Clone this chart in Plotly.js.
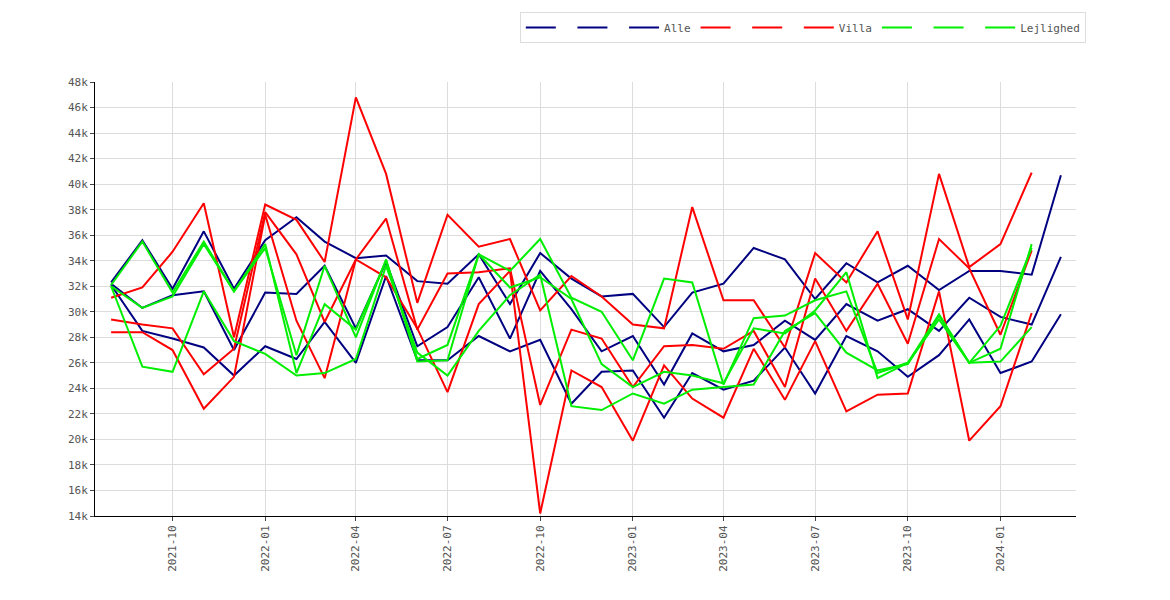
<!DOCTYPE html>
<html>
<head>
<meta charset="utf-8">
<script src="https://cdn.plot.ly/plotly-3.0.1.min.js"></script>
<style>body{margin:0;background:#fff}#chart{width:1170px;height:600px}</style>
</head>
<body>
<div id="chart"></div>
<script>
// monthly points, 2021-08 .. 2024-03
const months = [];
for (let i = 0; i < 32; i++) {
    const y = 2021 + Math.floor((7 + i) / 12), m = (7 + i) % 12 + 1;
    months.push(y + '-' + String(m).padStart(2, '0') + '-01');
}

const alleHigh = [32.3,35.6,31.8,36.3,31.8,35.6,37.4,35.5,34.2,34.4,32.4,32.2,34.5,30.6,34.6,32.6,31.2,31.4,28.8,31.5,32.2,35.0,34.1,31.0,33.8,32.3,33.6,31.7,33.2,33.2,32.9,40.7];
const alleMid = [32.2,30.3,31.3,31.6,27.0,31.5,31.4,33.6,28.7,33.9,27.3,28.8,32.7,27.9,33.2,30.2,26.9,28.1,24.3,28.3,26.9,27.4,29.3,27.8,30.6,29.3,30.2,28.5,31.1,29.6,29.0,34.3];
const alleLow = [32.1,28.5,27.9,27.2,25.0,27.3,26.3,29.2,26.0,32.8,26.2,26.2,28.1,26.9,27.8,22.8,25.3,25.4,21.7,25.2,23.9,24.6,27.2,23.6,28.1,26.9,24.9,26.6,29.4,25.2,26.1,29.8];

const villaHigh = [31.1,31.9,34.7,38.5,28.0,38.4,37.2,33.9,46.8,40.8,30.7,37.6,35.1,35.7,30.1,32.8,31.2,29.0,28.7,38.2,30.9,30.9,27.2,34.6,32.3,36.3,29.4,40.8,33.5,35.3,40.9];
const villaMid = [29.4,29.0,28.7,25.1,27.1,37.8,34.5,29.2,34.1,37.3,28.6,33.0,33.1,33.4,22.7,28.6,27.9,24.1,27.3,27.4,27.1,28.5,24.1,32.6,28.5,32.2,27.5,35.7,33.4,28.2,34.8];
const villaLow = [28.4,28.4,27.0,22.4,24.9,37.6,29.3,24.8,34.1,32.7,28.7,23.7,30.6,33.2,14.2,25.4,24.1,19.9,25.8,23.2,21.7,27.1,23.1,27.7,22.2,23.5,23.6,31.6,19.9,22.6,29.9];

const lejHigh = [32.1,35.5,31.5,35.5,31.6,35.0,26.6,33.6,28.0,34.1,26.1,26.2,34.5,33.2,35.7,31.1,30.0,26.2,32.6,32.3,24.3,29.5,29.7,30.9,31.6,25.2,26.0,29.8,26.0,27.1,35.3];
const lejMid = [32.0,30.3,31.2,35.3,31.6,35.3,25.2,30.6,28.6,34.0,26.3,27.4,34.5,31.9,32.7,31.0,25.9,24.1,25.3,25.0,24.4,28.7,28.3,30.1,33.1,24.8,26.0,29.4,26.0,28.9,35.0];
const lejLow = [32.0,25.7,25.3,31.6,27.7,26.7,25.0,25.2,26.3,33.6,26.8,25.0,28.5,31.3,32.9,22.6,22.3,23.6,22.8,23.9,24.1,24.3,28.5,29.9,26.8,25.4,25.9,29.7,26.0,26.1,28.8];

const seriesList = [
    [alleHigh, '#000080', ' '], [alleMid, '#000080', ' '], [alleLow, '#000080', 'Alle'],
    [villaHigh, '#ff0000', ' '], [villaMid, '#ff0000', ' '], [villaLow, '#ff0000', 'Villa'],
    [lejHigh, '#00ee00', ' '], [lejMid, '#00ee00', ' '], [lejLow, '#00ee00', 'Lejlighed']
];

const traces = seriesList.map(([vals, color, name]) => ({
    x: months.slice(0, vals.length),
    y: vals.map(v => v * 1000),
    type: 'scatter',
    mode: 'lines',
    name: name,
    line: { color: color, width: 2 }
}));

const mono = { family: 'DejaVu Sans Mono', size: 11, color: '#555' };

const layout = {
    width: 1170, height: 600,
    paper_bgcolor: '#fff', plot_bgcolor: '#fff',
    margin: { l: 95, r: 94, t: 59, b: 84 },
    font: mono,
    showlegend: true,
    legend: {
        orientation: 'h', x: 1.01, xanchor: 'right', y: 1.09, yanchor: 'bottom',
        bordercolor: '#ddd', borderwidth: 1, font: mono,
        itemwidth: 30, tracegroupgap: 0
    },
    xaxis: {
        type: 'date',
        range: ['2021-07-16', '2024-03-16'],
        tick0: '2021-10-01', dtick: 'M3', tickformat: '%Y-%m',
        tickangle: -90, ticks: 'outside', ticklen: 4,
        showgrid: true, gridcolor: '#dcdcdc',
        showline: true, linecolor: '#000', linewidth: 1,
        zeroline: false
    },
    yaxis: {
        range: [14000, 48000], dtick: 2000,
        ticks: 'outside', ticklen: 4,
        showgrid: true, gridcolor: '#dcdcdc',
        showline: true, linecolor: '#000', linewidth: 1,
        zeroline: false
    }
};

Plotly.newPlot('chart', traces, layout, { displayModeBar: false });
</script>
</body>
</html>
